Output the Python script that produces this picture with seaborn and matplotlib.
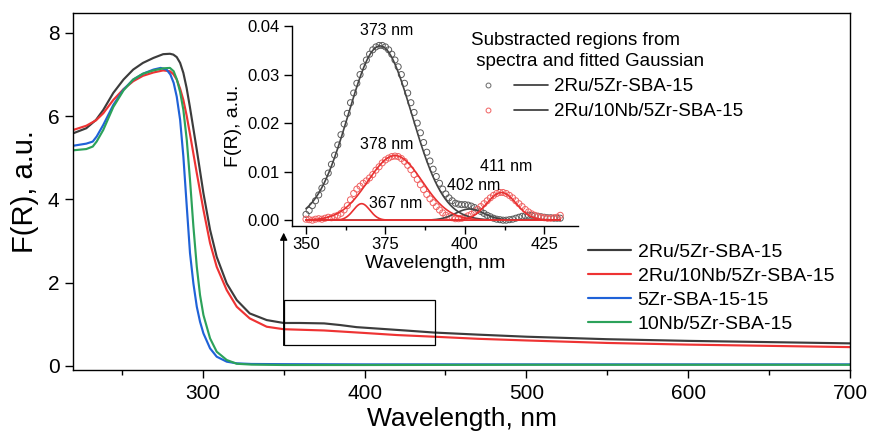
import numpy as np
import pandas as pd
import matplotlib
matplotlib.use("Agg")
import matplotlib.pyplot as plt
import seaborn as sns
from matplotlib.lines import Line2D
from matplotlib.patches import Rectangle
from matplotlib.legend_handler import HandlerTuple
from matplotlib.ticker import MultipleLocator

sns.set_theme(style="white")
plt.rcParams["font.family"] = ["Liberation Sans", "DejaVu Sans"]
plt.rcParams["text.color"] = "black"
plt.rcParams["axes.labelcolor"] = "black"
plt.rcParams["xtick.color"] = "black"
plt.rcParams["ytick.color"] = "black"

# ---------------- main spectra ----------------
labels_main = ["2Ru/5Zr-SBA-15", "2Ru/10Nb/5Zr-SBA-15", "5Zr-SBA-15-15", "10Nb/5Zr-SBA-15"]
colors_main = ["#3c3c3c", "#ee3333", "#1f62d8", "#2ca25a"]

wl_ru5zr = [220, 228, 234, 238.5, 244.7, 251, 257, 263, 269.5, 275.5, 279.7, 281.8, 283.9, 286,
            288, 290, 292, 296.3, 300.4, 304.5, 308.6, 314.8, 321, 329, 339.5, 350, 360, 375,
            385, 395, 410, 425, 443, 470, 500, 550, 600, 650, 700]
fr_ru5zr = [5.59, 5.71, 5.91, 6.15, 6.56, 6.88, 7.12, 7.28, 7.40, 7.49, 7.50, 7.48, 7.42, 7.28,
            7.04, 6.68, 6.23, 5.19, 4.15, 3.27, 2.62, 1.98, 1.58, 1.26, 1.10, 1.03, 1.03, 1.02,
            0.98, 0.93, 0.89, 0.85, 0.80, 0.75, 0.70, 0.64, 0.60, 0.57, 0.54]

wl_ru10nb = [220, 228, 234, 238.5, 244.7, 251, 257, 263, 269.5, 275.5, 279.7, 281.8, 283.9, 286,
             288, 290, 292, 296.3, 300.4, 304.5, 308.6, 314.8, 321, 329, 339.5, 350, 375, 400,
             420, 443, 470, 500, 550, 600, 650, 700]
fr_ru10nb = [5.67, 5.77, 5.90, 6.07, 6.39, 6.65, 6.84, 6.97, 7.05, 7.10, 7.08, 7.01, 6.88, 6.66,
             6.39, 6.02, 5.59, 4.63, 3.75, 2.95, 2.38, 1.82, 1.42, 1.14, 0.94, 0.88, 0.85, 0.79,
             0.74, 0.70, 0.65, 0.61, 0.55, 0.51, 0.48, 0.45]

wl_5zr = [220, 228, 232, 234.4, 238.5, 244.7, 251, 257, 263, 269.5, 274, 277.6, 280, 282, 283.9,
          286, 288, 290.1, 292.1, 294.2, 296.3, 298.3, 300.4, 304.5, 308.6, 314.8, 321, 330, 350,
          400, 500, 600, 700]
fr_5zr = [5.29, 5.34, 5.39, 5.51, 5.79, 6.27, 6.64, 6.88, 7.02, 7.12, 7.16, 7.12, 7.00, 6.80,
          6.47, 5.91, 5.03, 3.83, 2.71, 1.98, 1.42, 1.06, 0.78, 0.42, 0.22, 0.10, 0.06, 0.045,
          0.04, 0.035, 0.035, 0.035, 0.035]

wl_10nb = [220, 228, 232, 234.4, 238.5, 244.7, 251, 257, 263, 269.5, 275.6, 279.7, 282, 284, 286,
           288, 290.1, 292.1, 294.2, 296.3, 298.3, 300.4, 304.5, 308.6, 314.8, 321, 330, 350, 400,
           500, 600, 700]
fr_10nb = [5.18, 5.21, 5.27, 5.39, 5.67, 6.22, 6.62, 6.88, 7.02, 7.10, 7.15, 7.16, 7.08, 6.88,
           6.58, 6.15, 5.43, 4.47, 3.35, 2.38, 1.70, 1.22, 0.66, 0.34, 0.14, 0.05, 0.03, 0.02,
           0.02, 0.025, 0.025, 0.025]

# ---------------- inset: subtracted regions ----------------
wl_inset = list(range(350, 431))
sub_ru5zr = [0.0012, 0.0020, 0.0030, 0.0040, 0.0052, 0.0066, 0.0080, 0.0097, 0.0115, 0.0134,
             0.0155, 0.0176, 0.0198, 0.0220, 0.0242, 0.0262, 0.0282, 0.0300, 0.0316, 0.0330,
             0.0342, 0.0351, 0.0357, 0.0360, 0.0360, 0.0357, 0.0351, 0.0342, 0.0330, 0.0316,
             0.0300, 0.0282, 0.0262, 0.0242, 0.0222, 0.0200, 0.0180, 0.0160, 0.0140, 0.0122,
             0.0105, 0.0090, 0.0076, 0.0064, 0.0054, 0.0046, 0.0040, 0.0035, 0.0033, 0.0032,
             0.0032, 0.0031, 0.0029, 0.0026, 0.0022, 0.0018, 0.0014, 0.0010, 0.0007, 0.0004,
             0.0002, 0.0001, 0.0000, 0.0000, 0.0001, 0.0002, 0.0004, 0.0006, 0.0008, 0.0009,
             0.0010, 0.0010, 0.0009, 0.0008, 0.0007, 0.0006, 0.0005, 0.0005, 0.0004, 0.0004,
             0.0004]
sub_ru10nb = [0.0002, 0.0001, 0.0000, 0.0002, 0.0003, 0.0002, 0.0004, 0.0006, 0.0005, 0.0008,
              0.0010, 0.0014, 0.0021, 0.0030, 0.0042, 0.0055, 0.0064, 0.0070, 0.0076, 0.0081,
              0.0087, 0.0094, 0.0103, 0.0110, 0.0118, 0.0124, 0.0128, 0.0131, 0.0132, 0.0131,
              0.0127, 0.0121, 0.0113, 0.0104, 0.0094, 0.0084, 0.0073, 0.0063, 0.0053, 0.0044,
              0.0036, 0.0028, 0.0021, 0.0015, 0.0010, 0.0007, 0.0005, 0.0003, 0.0003, 0.0004,
              0.0006, 0.0009, 0.0012, 0.0017, 0.0022, 0.0028, 0.0034, 0.0040, 0.0046, 0.0051,
              0.0055, 0.0057, 0.0057, 0.0055, 0.0051, 0.0046, 0.0040, 0.0034, 0.0028, 0.0022,
              0.0017, 0.0013, 0.0010, 0.0008, 0.0006, 0.0005, 0.0004, 0.0004, 0.0005, 0.0006,
              0.0010]

# fitted Gaussian components (center nm, amplitude, sigma nm)
fit_ru5zr_center = [373.3, 401.5]
fit_ru5zr_amp = [0.0359, 0.0023]
fit_ru5zr_sigma = [10.0, 4.5]
fit_ru10nb_center = [367.5, 378.0, 411.5]
fit_ru10nb_amp = [0.0034, 0.0133, 0.0057]
fit_ru10nb_sigma = [2.6, 8.5, 4.6]

peak_labels = ["373 nm", "378 nm", "367 nm", "402 nm", "411 nm"]
peak_label_x = [375.3, 375.3, 378.2, 402.7, 412.9]
peak_label_y = [0.0391, 0.0155, 0.0035, 0.0072, 0.0110]

# ---------------- figure ----------------
fig = plt.figure(figsize=(8.71, 4.33), dpi=100)
ax = fig.add_axes([0.0842, 0.1455, 0.8917, 0.8245])

series = [(wl_ru5zr, fr_ru5zr), (wl_ru10nb, fr_ru10nb), (wl_5zr, fr_5zr), (wl_10nb, fr_10nb)]
for (wx, wy), lab, col in zip(series, labels_main, colors_main):
    sns.lineplot(x=wx, y=wy, ax=ax, color=col, lw=1.55, label=lab, sort=False, estimator=None)

ax.set_xlim(220, 700)
ax.set_ylim(-0.1, 8.48)
ax.set_xticks([300, 400, 500, 600, 700])
ax.xaxis.set_minor_locator(MultipleLocator(50))
ax.set_yticks([0, 2, 4, 6, 8])
ax.tick_params(axis="both", which="major", direction="out", length=6, width=1,
               labelsize=15, pad=4, color="black", labelcolor="black", bottom=True, left=True)
ax.tick_params(axis="x", which="minor", direction="out", length=3.5, width=1, bottom=True)
ax.set_xlabel("Wavelength, nm", fontsize=19, labelpad=3, color="black")
ax.set_ylabel("F(R), a.u.", fontsize=21, labelpad=6, color="black")
for s in ax.spines.values():
    s.set_color("black")
    s.set_linewidth(1.0)

ax.add_patch(Rectangle((350, 0.49), 93.4, 1.09, fill=False, ec="black", lw=0.9, zorder=5))
ax.annotate("", xy=(350, 3.2), xytext=(350, 0.49),
            arrowprops=dict(arrowstyle="-|>", color="black", lw=0.9, mutation_scale=11,
                            shrinkA=0, shrinkB=0))

ax.legend(loc="upper left", bbox_to_anchor=(0.675, 0.438), bbox_transform=fig.transFigure,
          frameon=False, fontsize=14, handlelength=2.2, handletextpad=0.35,
          labelspacing=0.33, borderpad=0, borderaxespad=0)

# ---------------- inset ----------------
ax_in = fig.add_axes([0.3349, 0.4792, 0.3284, 0.4607])
sns.scatterplot(x=wl_inset, y=sub_ru5zr, ax=ax_in, marker="o", s=19, facecolors="none",
                edgecolor="#5a5a5a", linewidth=0.7, zorder=3)
sns.scatterplot(x=wl_inset, y=sub_ru10nb, ax=ax_in, marker="o", s=19, facecolors="none",
                edgecolor="#f06060", linewidth=0.7, zorder=3)

grid = np.linspace(wl_inset[0], wl_inset[-1], 401)
for c, a, sg in zip(fit_ru5zr_center, fit_ru5zr_amp, fit_ru5zr_sigma):
    sns.lineplot(x=grid, y=a * np.exp(-(grid - c) ** 2 / (2 * sg ** 2)), ax=ax_in,
                 color="#444444", lw=1.2, zorder=4)
for c, a, sg in zip(fit_ru10nb_center, fit_ru10nb_amp, fit_ru10nb_sigma):
    sns.lineplot(x=grid, y=a * np.exp(-(grid - c) ** 2 / (2 * sg ** 2)), ax=ax_in,
                 color="#e83030", lw=1.2, zorder=4)

for t, tx, ty in zip(peak_labels, peak_label_x, peak_label_y):
    ax_in.text(tx, ty, t, fontsize=11.5, ha="center", va="center", color="black")

ax_in.set_xlim(345.5, 435.5)
ax_in.set_ylim(-0.0011, 0.04)
ax_in.set_xticks([350, 375, 400, 425])
ax_in.xaxis.set_minor_locator(MultipleLocator(12.5))
ax_in.set_yticks([0.0, 0.01, 0.02, 0.03, 0.04])
ax_in.set_yticklabels(["0.00", "0.01", "0.02", "0.03", "0.04"])
ax_in.tick_params(axis="both", which="major", direction="out", length=5.5, width=1,
                  labelsize=12, pad=3, color="black", labelcolor="black", bottom=True, left=True)
ax_in.tick_params(axis="x", which="minor", direction="out", length=3, width=1, bottom=True)
ax_in.set_xlabel("Wavelength, nm", fontsize=14, labelpad=2, color="black")
ax_in.set_ylabel("F(R), a.u.", fontsize=14, labelpad=4, color="black")
ax_in.patch.set_alpha(0)
for side in ["top", "right"]:
    ax_in.spines[side].set_visible(False)
for side in ["left", "bottom"]:
    ax_in.spines[side].set_color("black")
    ax_in.spines[side].set_linewidth(1.0)

h1 = (Line2D([], [], marker="o", ls="", mfc="none", mec="#6a6a6a", ms=3.5, mew=0.7),
      Line2D([], [], color="#333333", lw=1.2))
h2 = (Line2D([], [], marker="o", ls="", mfc="none", mec="#f06060", ms=3.5, mew=0.7),
      Line2D([], [], color="#333333", lw=1.2))
leg = ax_in.legend([h1, h2], ["2Ru/5Zr-SBA-15", "2Ru/10Nb/5Zr-SBA-15"],
                   handler_map={tuple: HandlerTuple(ndivide=None, pad=0.5)},
                   title="Substracted regions from\n spectra and fitted Gaussian",
                   title_fontsize=13.5, fontsize=13.5, loc="upper left",
                   bbox_to_anchor=(0.5408, 0.925), bbox_transform=fig.transFigure,
                   frameon=False, handlelength=4.1, handletextpad=0.3, labelspacing=0.42,
                   borderpad=0, borderaxespad=0, alignment="left")
leg.get_title().set_linespacing(1.3)

fig.savefig("out.png", dpi=100)
